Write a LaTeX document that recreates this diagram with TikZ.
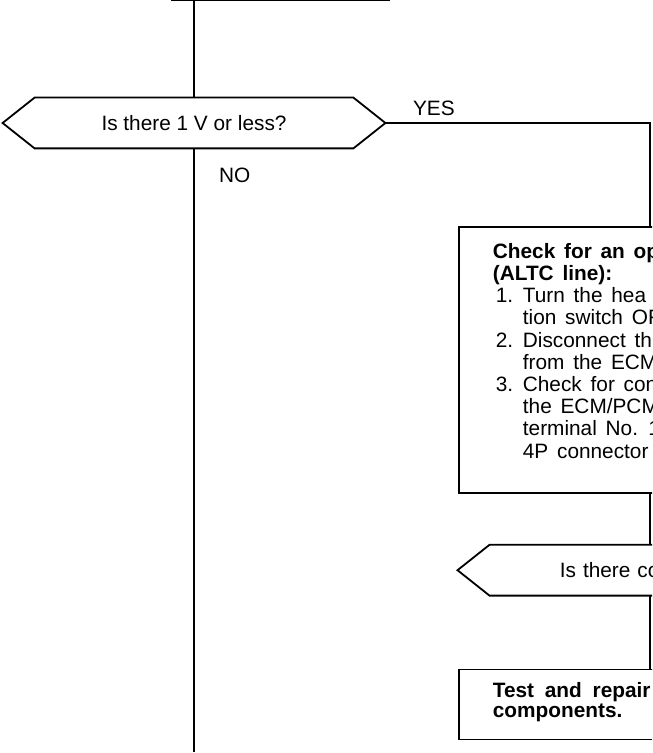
\documentclass[tikz,border=0pt]{standalone}
\usepackage{fontspec}
\setmainfont{Liberation Sans}
\usetikzlibrary{positioning}

\begin{document}
\begin{tikzpicture}[x=.5pt,y=-.5pt,font=\fontsize{10.4}{11.4}\selectfont,
box/.style={draw,line width=.9pt,inner xsep=17pt,align=left},
query/.style={minimum width=159pt,minimum height=25pt,inner sep=0pt,
  append after command={\pgfextra{\draw[line width=.9pt] (\tikzlastnode.north west)--(\tikzlastnode.north east)--([xshift=16pt]\tikzlastnode.east)--(\tikzlastnode.south east)--(\tikzlastnode.south west)--([xshift=-16pt]\tikzlastnode.west)--cycle;}}},
line/.style={line width=.9pt}]
\useasboundingbox (0,0) rectangle (652,753);
\clip (0,0) rectangle (652,753);
% previous step, mostly off the page
\node[box,anchor=south,minimum width=108.5pt,minimum height=30pt] (prev) at (280.5,1) {};
\node[query] (q1) at (194,123) {Is there 1 V or less?};
\node[anchor=west] (yes) at (406,108) {YES};
\node[anchor=west] (no) at (212,175) {NO};
\node[box,anchor=north west,text width=157pt,minimum height=133pt,
  font=\fontsize{10.4}{11.1}\selectfont] (check) at (458,226)
  {\spaceskip=4.4pt\relax
   \textbf{Check for an op}\\
   \textbf{(ALTC line):}\\
   \makebox[15pt][l]{\hspace{1.5pt}1.}Turn the hea\\
   \hspace*{15pt}tion switch OF\\
   \makebox[15pt][l]{\hspace{1.5pt}2.}Disconnect th\\
   \hspace*{15pt}from the ECM\\
   \makebox[15pt][l]{\hspace{1.5pt}3.}Check for con\\
   \hspace*{15pt}the ECM/PCM\\
   \hspace*{15pt}terminal No. 1\\
   \hspace*{15pt}4P connector t\rule[-9.2pt]{0pt}{0pt}};
\node[query,below=25.5pt of check,text width=90pt,inner xsep=35pt,align=left] (q2) {Is there co};
\node[box,below=36.5pt of q2,text width=157pt,minimum height=35pt,
  font=\bfseries\fontsize{10.4}{10}\selectfont] (fix)
  {\spaceskip=5.4pt\relax
   Test and repair\\components.\rule[-4.2pt]{0pt}{0pt}};
% connectors
\coordinate (yestip) at ([xshift=16pt]q1.east);
\coordinate (yesturn) at (yestip -| check.north);
\coordinate (noend) at (q1.south |- 0,752);
\draw[line] (prev.south -| q1.north) -- (q1.north);
\draw[line] (yestip) -- (yesturn) -- (check.north);
\draw[line] (q1.south) -- (noend);
\draw[line] (check.south) -- (q2.north);
\draw[line] (q2.south) -- (fix.north);
\end{tikzpicture}
\end{document}
